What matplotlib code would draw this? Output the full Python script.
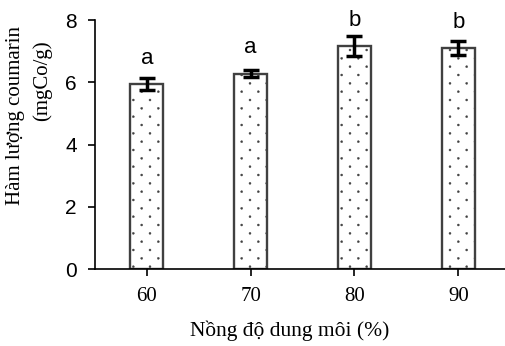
import numpy as np
import matplotlib.pyplot as plt
from matplotlib import hatch as mhatch
from matplotlib.path import Path

# Coumarin content by solvent concentration
concentrations = ['60', '70', '80', '90']
coumarin = [5.95, 6.28, 7.17, 7.10]
errors = [0.20, 0.12, 0.32, 0.22]
letters = ['a', 'a', 'b', 'b']

SANS = 'Liberation Sans'
SERIF = 'Liberation Serif'


class StaggeredDots(mhatch.HatchPatternBase):
    # small dots, rows twice as dense as columns, every other row shifted
    def __init__(self, hatch, density):
        n = hatch.count('.')
        self.nrows = 12 * n
        self.ncols = 6 * n
        self.circle = Path.unit_circle()
        self.centers = []
        if n:
            for i in range(self.nrows + 1):
                y = i / self.nrows
                shift = 0.5 if i % 2 else 0.0
                for j in range(self.ncols + 1):
                    self.centers.append(((j + shift) / self.ncols, y))
        self.num_vertices = len(self.centers) * len(self.circle.vertices)

    def set_vertices_and_codes(self, vertices, codes):
        nv = len(self.circle.vertices)
        r = 0.01
        for k, (cx, cy) in enumerate(self.centers):
            vertices[k * nv:(k + 1) * nv] = self.circle.vertices * r + (cx, cy)
            codes[k * nv:(k + 1) * nv] = self.circle.codes


mhatch._hatch_types = [StaggeredDots if t is mhatch.SmallFilledCircles else t
                       for t in mhatch._hatch_types]

plt.rcParams['hatch.linewidth'] = 0.3
plt.rcParams['hatch.color'] = '#333333'

fig = plt.figure(figsize=(5.05, 3.46), dpi=100)
ax = fig.add_axes([0.188, 0.2225, 0.812, 0.7195])

x = np.arange(len(concentrations))
ax.bar(x, coumarin, width=0.32, color='white', edgecolor='#404040',
       linewidth=1.7, hatch='.', zorder=2)
ax.errorbar(x, coumarin, yerr=errors, fmt='none', ecolor='black',
            elinewidth=2.5, capsize=6, capthick=2.5, zorder=3)

for xi, v, lab in zip(x, coumarin, letters):
    ax.text(xi, v + 0.65, lab, ha='center', va='baseline',
            fontsize=16, family=SANS)

ax.set_xlim(-0.5, 3.45)
ax.set_ylim(0, 8)
ax.set_yticks([0, 2, 4, 6, 8])
ax.set_xticks(x)
ax.set_xticklabels(concentrations, family=SERIF, fontsize=15)
for t in ax.get_yticklabels():
    t.set_family(SANS)
    t.set_fontsize(15)

ax.spines['top'].set_visible(False)
ax.spines['right'].set_visible(False)
ax.spines['left'].set_linewidth(1.2)
ax.spines['bottom'].set_linewidth(1.2)
ax.tick_params(axis='both', direction='out', length=5, width=1.2, pad=8)

# y label as two separately placed lines, like the original
fig.text(0.031, 0.665, 'Hàm lượng coumarin', rotation=90, ha='center',
         va='center', family=SERIF, fontsize=15)
fig.text(0.083, 0.766, '(mgCo/g)', rotation=90, ha='center',
         va='center', family=SERIF, fontsize=15)

ax.set_xlabel('Nồng độ dung môi (%)', family=SERIF, fontsize=15.5)
ax.xaxis.set_label_coords(0.476, -0.205)

fig.savefig('out.png', dpi=100)
